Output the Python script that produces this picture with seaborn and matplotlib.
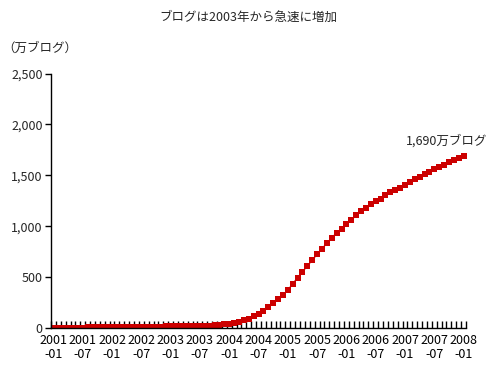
import matplotlib
matplotlib.use("Agg")
import matplotlib.pyplot as plt
import seaborn as sns
import numpy as np
import pandas as pd

# ---- data (monthly, 2001-01 .. 2008-01), unit: 万ブログ
years = [2001, 2002, 2003, 2004, 2005, 2006, 2007, 2008]
months = [f"{y}-{m:02d}" for y in years for m in range(1, 13)][:85]
values = [
    1, 2, 2, 3, 3, 4, 4, 5, 5, 6, 6, 7,          # 2001
    7, 8, 8, 9, 9, 10, 10, 11, 12, 13, 14, 15,   # 2002
    16, 17, 18, 19, 20, 21, 21, 22, 23, 26, 29, 36,  # 2003
    43, 49, 62, 75, 92, 115, 138, 170, 206, 246, 285, 321,  # 2004
    373, 432, 494, 553, 609, 668, 724, 779, 832, 887, 933, 969,  # 2005
    1025, 1062, 1106, 1149, 1183, 1218, 1246, 1270, 1306, 1333, 1356, 1378,  # 2006
    1408, 1431, 1464, 1487, 1510, 1532, 1559, 1582, 1604, 1627, 1650, 1667,  # 2007
    1690,  # 2008-01
]
tick_labels = ["2001\n-01", "2001\n-07", "2002\n-01", "2002\n-07", "2003\n-01",
               "2003\n-07", "2004\n-01", "2004\n-07", "2005\n-01", "2005\n-07",
               "2006\n-01", "2006\n-07", "2007\n-01", "2007\n-07", "2008\n-01"]
y_ticks = [0, 500, 1000, 1500, 2000, 2500]
title = "ブログは2003年から急速に増加"
unit_label = "（万ブログ）"
end_label = "1,690万ブログ"

df = pd.DataFrame({"idx": np.arange(len(values)), "month": months, "value": values})

sns.set_style("white")
plt.rcParams["font.family"] = ["Noto Sans CJK JP", "DejaVu Sans"]
plt.rcParams["font.size"] = 9

fig = plt.figure(figsize=(4.98, 3.67), dpi=100)
ax = fig.add_axes([51 / 498, (367 - 328) / 367, (466 - 51) / 498, (328 - 73.5) / 367])

red = "#CC0000"
sns.lineplot(data=df, x="idx", y="value", ax=ax, color=red, lw=1.0,
             marker="s", markersize=3.8, markeredgewidth=0, markerfacecolor=red)

ax.set_xlim(-0.5, len(values) - 0.5)
ax.set_ylim(0, 2500)
ax.set_yticks(y_ticks)
ax.set_yticklabels([f"{v:,}" for v in y_ticks])
ax.set_xticks(np.arange(0, len(values), 6))
ax.set_xticklabels(tick_labels, linespacing=1.15)
ax.set_xticks(np.arange(-0.5, len(values), 1), minor=True)
ax.tick_params(axis="x", which="major", length=0, pad=4, colors="black", labelsize=9)
ax.tick_params(axis="x", which="minor", direction="in", length=5, width=1, color="black", bottom=True)
ax.tick_params(axis="y", direction="out", length=4, width=1, color="black", left=True, pad=2, labelsize=9)
ax.set_xlabel("")
ax.set_ylabel("")
for s in ["top", "right"]:
    ax.spines[s].set_visible(False)
for s in ["left", "bottom"]:
    ax.spines[s].set_color("black")
    ax.spines[s].set_linewidth(1)

fig.text(248 / 498, 1 - 17 / 367, title, ha="center", va="center", fontsize=9)
fig.text(2 / 498, 1 - 48 / 367, unit_label, ha="left", va="center", fontsize=9)
ax.annotate(end_label, xy=(len(values) - 1, values[-1]), xytext=(406 / 498, 1 - 141 / 367),
            textcoords="figure fraction", ha="left", va="center", fontsize=9)

fig.savefig("out.png", dpi=100)
